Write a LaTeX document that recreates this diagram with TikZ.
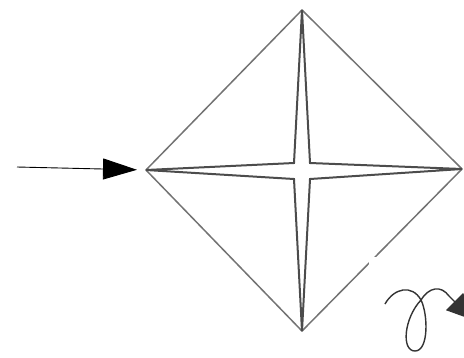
\documentclass[tikz,border=0pt]{standalone}
\usetikzlibrary{arrows.meta}
\begin{document}
\begin{tikzpicture}[x=1pt,y=-1pt,
  edgeline/.style={draw=black!55,line width=1.5pt,line join=round},
  crossline/.style={draw=black!70,line width=2pt,line join=miter},
  pointer/.style={draw=black,line width=0.9pt,-{Triangle[length=34pt,width=21pt]}},
  turnline/.style={draw=black!80,line width=1.4pt,-{Triangle[length=26pt,width=24pt]}}]
\useasboundingbox (0,0) rectangle (464,357);
% diamond vertices
\coordinate (T) at (302,10);
\coordinate (R) at (462,169);
\coordinate (B) at (302,331);
\coordinate (L) at (146,170);
% inner corners of the cross
\coordinate (c1) at (294,163);
\coordinate (c2) at (310,163);
\coordinate (c3) at (310,179);
\coordinate (c4) at (294,179);
% diamond
\draw[edgeline] (T) -- (R) -- (B) -- (L) -- cycle;
% cross (four-pointed star outline)
\draw[crossline] (T) -- (c1) -- (L) -- (c4) -- (B) -- (c3) -- (R) -- (c2) -- cycle;
% arrow pointing at left vertex
\coordinate (S) at (17,167);
\draw[pointer,shorten >=9pt] (S) -- (L);
% white patch behind the turn-over symbol
\fill[white] (369,257) rectangle (464,357);
% turn-over loop symbol
\coordinate (ls) at (385,304);
\coordinate (lx) at (421,300);
\coordinate (lb) at (415,351);
\coordinate (le) at (473,320);
\draw[turnline] (ls) .. controls (394,288) and (412,284) .. (lx)
  .. controls (428,314) and (429,351) .. (lb)
  .. controls (401,351) and (404,318) .. (lx)
  .. controls (429,287) and (441,285) .. (449,296) -- (le);
\end{tikzpicture}
\end{document}
